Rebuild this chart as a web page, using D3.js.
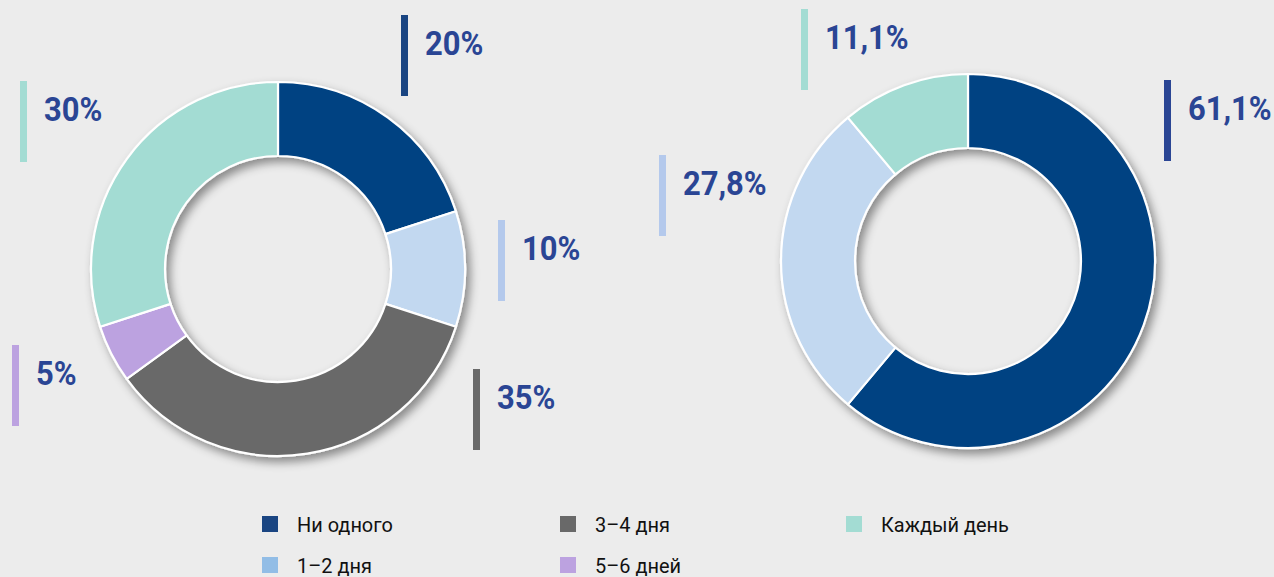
<!DOCTYPE html>
<html>
<head>
<meta charset="utf-8">
<script src="https://cdn.jsdelivr.net/npm/d3@7"></script>
<style>
  html, body { margin: 0; padding: 0; background: #ececec; }
  svg { display: block; }
  .lbl { font-family: Roboto, "Liberation Sans", sans-serif; font-weight: bold; }
  .leg { font-family: Roboto, "Liberation Sans", sans-serif; }
</style>
</head>
<body>
<svg id="chart" width="1274" height="577"></svg>
<script>
// data
const categories = ["Ни одного", "1–2 дня", "3–4 дня", "5–6 дней", "Каждый день"];
const leftValues = [20, 10, 35, 5, 30];
const rightCategories = ["Ни одного", "1–2 дня", "Каждый день"];
const rightValues = [61.1, 27.8, 11.1];

// colours
const sliceColor = d3.scaleOrdinal()
  .domain(categories)
  .range(["#004282", "#c2d8f0", "#696969", "#bca2e0", "#a3dcd3"]);
const barColor = d3.scaleOrdinal()
  .domain(categories)
  .range(["#1a4582", "#b4c9ec", "#696969", "#bca2e0", "#a3dcd3"]);
const legendColor = d3.scaleOrdinal()
  .domain(categories)
  .range(["#1a4582", "#92bde6", "#696969", "#bca2e0", "#a3dcd3"]);

// label bar offsets from donut centre (hand placed, like the original)
const leftLabelPos = [[123, -254], [220, -49], [195, 100], [-266, 76], [-258, -188]];
const rightLabelPos = [[196, -181], [-309, -106], [-167, -252]];

const svg = d3.select("#chart");
const fmt = v => (Number.isInteger(v) ? String(v) : v.toFixed(1).replace(".", ",")) + "%";

const defs = svg.append("defs");
defs.append("filter")
  .attr("id", "shadow")
  .attr("x", "-20%").attr("y", "-20%").attr("width", "140%").attr("height", "140%")
  .append("feDropShadow")
  .attr("dx", 4).attr("dy", 5)
  .attr("stdDeviation", 5)
  .attr("flood-color", "#000")
  .attr("flood-opacity", 0.42);

const rOuter = 187, rInner = 113;
const arc = d3.arc().innerRadius(rInner).outerRadius(rOuter);
const pie = d3.pie().sort(null).value(d => d.value);

function donut(cx, cy, cats, vals, labelPos, overrideBar) {
  const data = cats.map((c, i) => ({ cat: c, value: vals[i] }));
  const g = svg.append("g").attr("transform", `translate(${cx},${cy})`);

  g.append("g")
    .attr("filter", "url(#shadow)")
    .selectAll("path")
    .data(pie(data))
    .join("path")
    .attr("d", arc)
    .attr("fill", d => sliceColor(d.data.cat))
    .attr("stroke", "#fff")
    .attr("stroke-width", 2.2)
    .attr("stroke-linejoin", "round");

  const lab = g.selectAll(".label")
    .data(data)
    .join("g")
    .attr("class", "label")
    .attr("transform", (d, i) => `translate(${labelPos[i][0]},${labelPos[i][1]})`);

  lab.append("rect")
    .attr("width", 7)
    .attr("height", 81)
    .attr("fill", d => (overrideBar && overrideBar[d.cat]) || barColor(d.cat));

  // condensed look: squeeze the text horizontally
  lab.append("text")
    .attr("class", "lbl")
    .attr("transform", "translate(24,40) scale(0.91,1)")
    .attr("font-size", 34)
    .attr("fill", "#2a4594")
    .text(d => fmt(d.value));
}

donut(278, 269, categories, leftValues, leftLabelPos);
donut(968, 261, rightCategories, rightValues, rightLabelPos, { "Ни одного": "#2a4594" });

// legend
const colX = [262, 560, 846];
const rowY = [516, 557];
const leg = svg.append("g")
  .selectAll("g")
  .data(categories)
  .join("g")
  .attr("transform", (d, i) => `translate(${colX[Math.floor(i / 2)]},${rowY[i % 2]})`);

leg.append("rect")
  .attr("width", 16)
  .attr("height", 16)
  .attr("fill", d => legendColor(d));

leg.append("text")
  .attr("class", "leg")
  .attr("transform", "translate(35,16) scale(0.95,1)")
  .attr("font-size", 21)
  .attr("fill", "#111")
  .text(d => d);
</script>
</body>
</html>
